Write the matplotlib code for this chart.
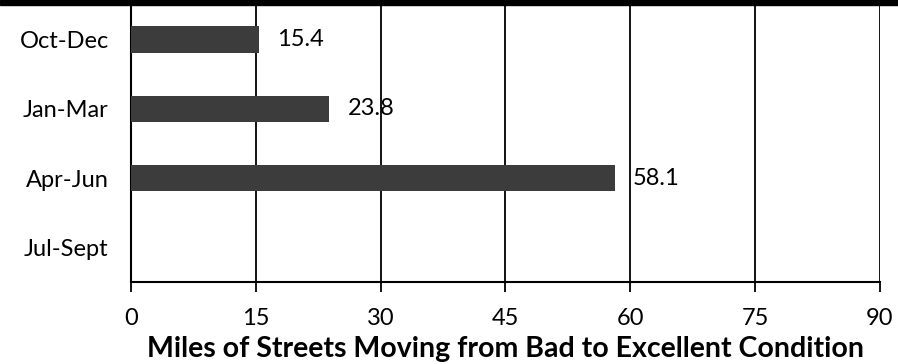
import matplotlib.pyplot as plt
from matplotlib.patches import Rectangle

# data
quarters = ['Jul-Sept', 'Apr-Jun', 'Jan-Mar', 'Oct-Dec']
miles = [0, 58.1, 23.8, 15.4]
labels = ['', '58.1', '23.8', '15.4']
xticks = [0, 15, 30, 45, 60, 75, 90]

plt.rcParams['font.family'] = ['Lato', 'DejaVu Sans']

fig = plt.figure(figsize=(8.98, 3.64), dpi=100)
ax = fig.add_axes([131 / 898, 82 / 364, 749 / 898, 277 / 364])

ax.barh(range(len(quarters)), miles, height=0.38, color='#3c3c3c', zorder=3)
for i, (v, t) in enumerate(zip(miles, labels)):
    if t:
        ax.text(v + 2.2, i, t, va='center', ha='left', fontsize=17, zorder=4)

ax.set_xlim(0, 90)
ax.set_ylim(-0.5, 3.5)
ax.set_xticks(xticks)
ax.set_yticks(range(len(quarters)))
ax.set_yticklabels(quarters, fontsize=17)
ax.tick_params(axis='y', length=0, pad=16)
ax.tick_params(axis='x', length=7, width=1.3, color='black', labelsize=17, pad=12)
ax.grid(axis='x', color='black', linewidth=1.3, zorder=1)
for s in ['top', 'right']:
    ax.spines[s].set_visible(False)
ax.spines['left'].set_linewidth(1.5)
ax.spines['bottom'].set_linewidth(1.5)
ax.set_xlabel('Miles of Streets Moving from Bad to Excellent Condition',
              fontsize=20.5, fontweight='bold', labelpad=5)

# black banner at the very top (cropped title bar)
fig.patches.append(Rectangle((0, 1 - 5 / 364), 1, 5 / 364, transform=fig.transFigure,
                             color='black', zorder=5))

fig.savefig('out.png', dpi=100)
